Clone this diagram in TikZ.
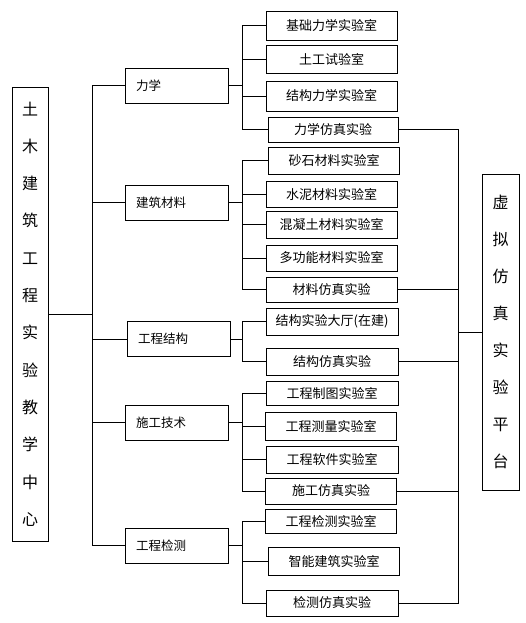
\documentclass[tikz,border=0pt]{standalone}
\usepackage{fontspec}
\setmainfont{Noto Sans CJK SC}
\usetikzlibrary{positioning}

\begin{document}
\begin{tikzpicture}[
    x=1pt, y=-1pt,
    link/.style={line width=0.8pt},
    mainbox/.style={rectangle, draw, line width=0.8pt, minimum width=36pt, minimum height=454pt, inner sep=0pt, align=center, font=\fontsize{16}{37.3}\selectfont},
    catbox/.style={rectangle, draw, line width=0.8pt, text width=81pt, inner xsep=11pt, minimum height=35pt, align=left, font=\fontsize{12.5}{15}\selectfont},
    labbox/.style={rectangle, draw, line width=0.8pt, minimum width=131pt, minimum height=27pt, inner sep=0pt, font=\fontsize{13}{15}\selectfont}
]
\useasboundingbox (0,0) rectangle (525,623);

\node (center) [mainbox] at (30,314) {土\\木\\建\\筑\\工\\程\\实\\验\\教\\学\\中\\心};
\node (platform) [mainbox, minimum width=37pt, minimum height=316pt, font=\fontsize{16}{37}\selectfont] at (500.5,332) {虚\\拟\\仿\\真\\实\\验\\平\\台};

\node (lixue) [catbox] at (176.5,85.5) {力学};
\node (cailiao) [catbox] at (176.5,202.5) {建筑材料};
\node (jiegou) [catbox] at (178.5,339) {工程结构};
\node (shigong) [catbox] at (176.5,422.5) {施工技术};
\node (jiance) [catbox] at (176.5,545.5) {工程检测};

\node (jichu) [labbox, minimum height=29pt] at (331.5,25.5) {基础力学实验室};
\node (tugong) [labbox, minimum height=28pt] at (331.5,59) {土工试验室};
\node (jglx) [labbox, minimum height=30pt] at (331.5,96) {结构力学实验室};
\node (lxfz) [labbox, minimum width=130pt, minimum height=25pt] at (333,129.5) {力学仿真实验};

\node (shashi) [labbox] at (334,160.5) {砂石材料实验室};
\node (shuini) [labbox, minimum height=26pt] at (331.5,194) {水泥材料实验室};
\node (hunningtu) [labbox] at (331.5,224.5) {混凝土材料实验室};
\node (duogongneng) [labbox, minimum height=26pt] at (331.5,258) {多功能材料实验室};
\node (clfz) [labbox, minimum height=25pt] at (331.5,289.5) {材料仿真实验};

\node (dating) [labbox, minimum width=132pt] at (332,321.5) {结构实验大厅(在建)};
\node (jgfz) [labbox, minimum width=132pt] at (332,361.5) {结构仿真实验};

\node (zhitu) [labbox, minimum width=132pt, minimum height=24pt] at (332,393) {工程制图实验室};
\node (celiang) [labbox, minimum height=28pt] at (331,426) {工程测量实验室};
\node (ruanjian) [labbox, minimum width=132pt] at (332,459.5) {工程软件实验室};
\node (sgfz) [labbox, minimum height=26pt] at (331,491) {施工仿真实验};

\node (jcsys) [labbox, minimum height=24pt] at (331,521) {工程检测实验室};
\node (zhineng) [labbox, minimum height=28pt] at (334,561) {智能建筑实验室};
\node (jcfz) [labbox, minimum width=132pt, minimum height=26pt] at (332,603) {检测仿真实验};

\coordinate (busL) at (92,0);
\coordinate (busM) at (242,0);
\coordinate (busR) at (458,0);

\draw [link] (center.east) -- (center.east -| busL);
\draw [link] (lixue.west) -| (jiance.west -| busL) -- (jiance.west);
\draw [link] (cailiao.west) -- (cailiao.west -| busL) (jiegou.west) -- (jiegou.west -| busL) (shigong.west) -- (shigong.west -| busL);

\draw [link] (lixue.east) -- (lixue.east -| busM);
\draw [link] (jichu.west) -| (lxfz.west -| busM) -- (lxfz.west);
\draw [link] (tugong.west) -- (tugong.west -| busM) (jglx.west) -- (jglx.west -| busM);

\draw [link] (cailiao.east) -- (cailiao.east -| busM);
\draw [link] (shashi.west) -| (clfz.west -| busM) -- (clfz.west);
\draw [link] (shuini.west) -- (shuini.west -| busM) (hunningtu.west) -- (hunningtu.west -| busM) (duogongneng.west) -- (duogongneng.west -| busM);

\draw [link] (jiegou.east) -- (jiegou.east -| busM);
\draw [link] (dating.west) -| (jgfz.west -| busM) -- (jgfz.west);

\draw [link] (shigong.east) -- (shigong.east -| busM);
\draw [link] (zhitu.west) -| (sgfz.west -| busM) -- (sgfz.west);
\draw [link] (celiang.west) -- (celiang.west -| busM) (ruanjian.west) -- (ruanjian.west -| busM);

\draw [link] (jiance.east) -- (jiance.east -| busM);
\draw [link] (jcsys.west) -| (jcfz.west -| busM) -- (jcfz.west);
\draw [link] (zhineng.west) -- (zhineng.west -| busM);

\draw [link] (lxfz.east) -| (jcfz.east -| busR) -- (jcfz.east);
\draw [link] (clfz.east) -- (clfz.east -| busR) (jgfz.east) -- (jgfz.east -| busR) (sgfz.east) -- (sgfz.east -| busR);
\draw [link] (platform.west -| busR) -- (platform.west);
\end{tikzpicture}
\end{document}
